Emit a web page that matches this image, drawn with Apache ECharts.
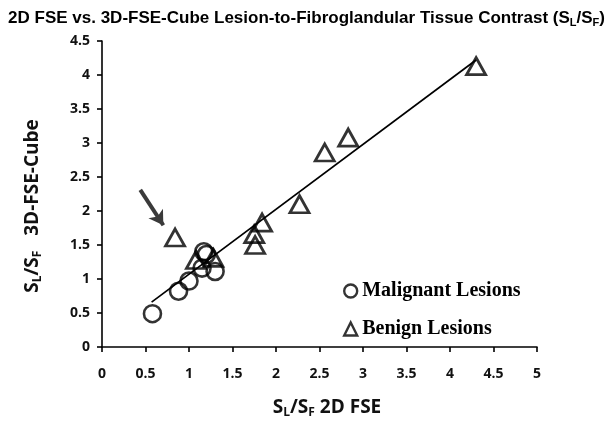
<!DOCTYPE html>
<html><head><meta charset="utf-8">
<script src="https://cdn.jsdelivr.net/npm/echarts@6/dist/echarts.min.js"></script>
<style>html,body{margin:0;padding:0;background:#fff}#c{width:613px;height:424px}</style>
</head><body><div id="c"></div>
<script>
const titleText = '2D FSE vs. 3D-FSE-Cube Lesion-to-Fibroglandular Tissue Contrast (S{s|L}/S{s|F})';
const xTicks = [0, 0.5, 1, 1.5, 2, 2.5, 3, 3.5, 4, 4.5, 5];
const yTicks = [0, 0.5, 1, 1.5, 2, 2.5, 3, 3.5, 4, 4.5];
const malignantX = [0.58, 0.88, 1.00, 1.15, 1.17, 1.20, 1.30];
const malignantY = [0.49, 0.82, 0.97, 1.16, 1.40, 1.36, 1.11];
const benignX = [0.84, 1.08, 1.28, 1.75, 1.76, 1.84, 2.27, 2.56, 2.83, 4.30];
const benignY = [1.61, 1.28, 1.31, 1.66, 1.50, 1.83, 2.10, 2.86, 3.08, 4.13];
const trendX = [0.57, 4.30];
const trendY = [0.66, 4.22];
const arrowX = [0.44, 0.705];
const arrowY = [2.31, 1.79];

const sans = '"Liberation Sans Narrow", "Liberation Sans", Arial, sans-serif';
const lab = '"Open Sans", "Noto Sans", sans-serif';
const serif = '"Liberation Serif", "Times New Roman", serif';

const chart = echarts.init(document.getElementById('c'), null, {renderer: 'canvas'});
const zip = (a, b) => a.map((v, i) => [v, b[i]]);
chart.setOption({
  animation: false,
  backgroundColor: '#fff',
  title: {
    text: titleText, left: 'center', top: 4,
    textStyle: {fontFamily: sans, fontWeight: 'bold', fontSize: 17, color: '#000',
      rich: {s: {fontFamily: sans, fontWeight: 'bold', fontSize: 11, verticalAlign: 'bottom', padding: [8, 0, 0, 0], color: '#000'}}}
  },
  grid: {left: 102, right: 76, top: 41, bottom: 77},
  legend: {
    orient: 'vertical', left: 338, top: 274, itemWidth: 13, itemHeight: 13, itemGap: 14, itemTextGap: 6,
    textStyle: {fontFamily: serif, fontWeight: 'bold', fontSize: 20, color: '#000', lineHeight: 24},
    data: [
      {name: 'Malignant Lesions', icon: 'circle', itemStyle: {color: 'transparent', borderColor: '#000', borderWidth: 2.4}},
      {name: 'Benign Lesions', icon: 'triangle', itemStyle: {color: 'transparent', borderColor: '#000', borderWidth: 2.4}}
    ]
  },
  xAxis: {
    type: 'value', min: xTicks[0], max: xTicks[xTicks.length - 1], interval: 0.5,
    splitLine: {show: false},
    axisLine: {onZero: false, lineStyle: {color: '#000', width: 1.6}},
    axisTick: {show: true, length: 5, lineStyle: {color: '#000', width: 1.6}},
    axisLabel: {margin: 20, fontFamily: lab, fontWeight: 'bold', fontSize: 14, color: '#111'},
    name: 'S{s|L}/S{s|F} 2D FSE', nameLocation: 'middle', nameGap: 50,
    nameTextStyle: {fontFamily: lab, fontWeight: 'bold', fontSize: 19, color: '#111', padding: [0, 0, 0, 15],
      rich: {s: {fontFamily: lab, fontWeight: 'bold', fontSize: 12, verticalAlign: 'bottom', padding: [10, 0, 0, 0], color: '#111'}}}
  },
  yAxis: {
    type: 'value', min: yTicks[0], max: yTicks[yTicks.length - 1], interval: 0.5,
    splitLine: {show: false},
    axisLine: {onZero: false, lineStyle: {color: '#000', width: 1.6}},
    axisTick: {show: true, length: 5, lineStyle: {color: '#000', width: 1.6}},
    axisLabel: {margin: 12, fontFamily: lab, fontWeight: 'bold', fontSize: 14, color: '#111'},
    name: 'S{s|L}/S{s|F}   3D-FSE-Cube', nameLocation: 'middle', nameGap: 58, nameRotate: 90,
    nameTextStyle: {fontFamily: lab, fontWeight: 'bold', fontSize: 19, color: '#111', padding: [0, 24, 0, 0],
      rich: {s: {fontFamily: lab, fontWeight: 'bold', fontSize: 12, verticalAlign: 'bottom', padding: [10, 0, 0, 0], color: '#111'}}}
  },
  series: [
    {
      name: 'trend', type: 'line', data: zip(trendX, trendY), symbol: 'none',
      lineStyle: {color: '#000', width: 1.7}, silent: true, z: 1
    },
    {
      name: 'Malignant Lesions', type: 'scatter', data: zip(malignantX, malignantY),
      symbol: 'circle', symbolSize: 17,
      itemStyle: {color: 'transparent', borderColor: '#000', borderWidth: 2.6}, z: 3
    },
    {
      name: 'Benign Lesions', type: 'scatter', data: zip(benignX, benignY),
      symbol: 'triangle', symbolSize: [19, 17],
      itemStyle: {color: 'transparent', borderColor: '#000', borderWidth: 2.8}, z: 3
    },
    {
      name: 'arrow', type: 'line', data: [], silent: true,
      markLine: {
        silent: true, symbol: ['none', 'arrow'], symbolSize: [13, 14],
        label: {show: false},
        lineStyle: {color: '#3a3a3a', width: 4, type: 'solid'},
        data: [[{coord: [arrowX[0], arrowY[0]]}, {coord: [arrowX[1], arrowY[1]]}]]
      }
    }
  ]
});
</script></body></html>
